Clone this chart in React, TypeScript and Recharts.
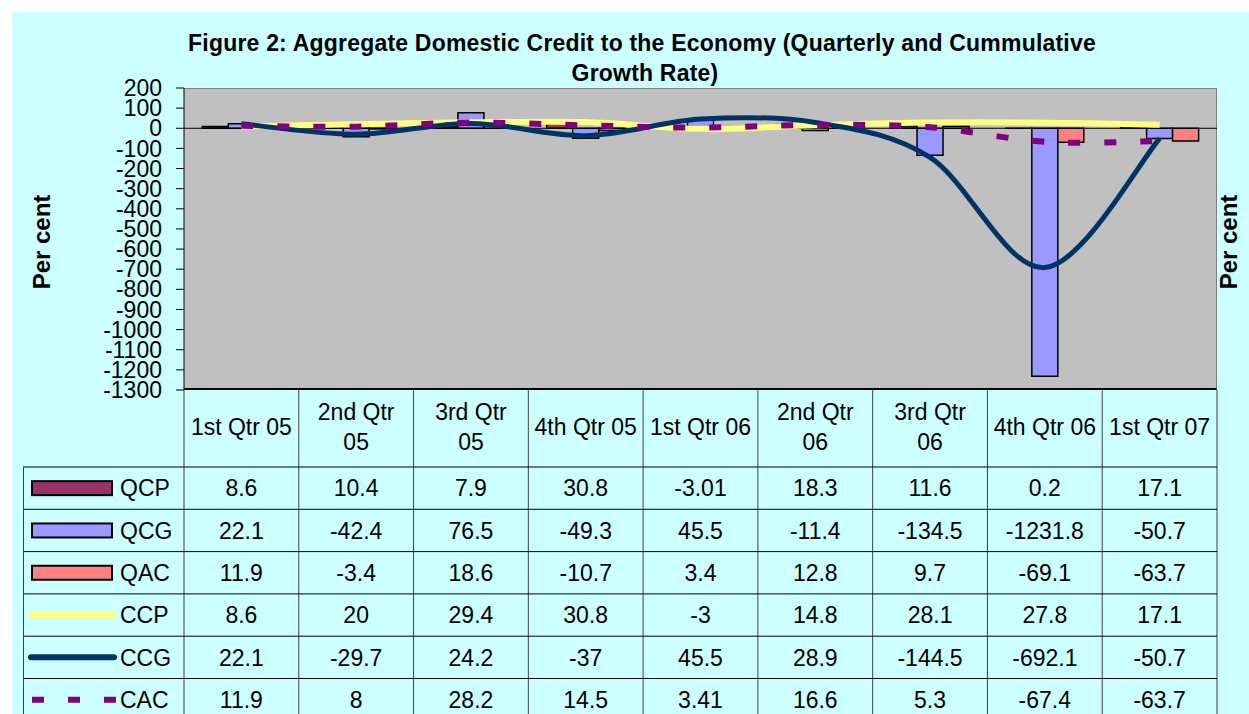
import React from 'react';
import { ComposedChart, Bar, Line, XAxis, YAxis, ReferenceLine } from 'recharts';

// quarters, with the line breaks used in the table header
const headerLines = [
  ['1st Qtr 05'],
  ['2nd Qtr', '05'],
  ['3rd Qtr', '05'],
  ['4th Qtr 05'],
  ['1st Qtr 06'],
  ['2nd Qtr', '06'],
  ['3rd Qtr', '06'],
  ['4th Qtr 06'],
  ['1st Qtr 07'],
];
const categories = headerLines.map((l) => l.join(' '));

const qcp = [8.6, 10.4, 7.9, 30.8, -3.01, 18.3, 11.6, 0.2, 17.1];
const qcg = [22.1, -42.4, 76.5, -49.3, 45.5, -11.4, -134.5, -1231.8, -50.7];
const qac = [11.9, -3.4, 18.6, -10.7, 3.4, 12.8, 9.7, -69.1, -63.7];
const ccp = [8.6, 20, 29.4, 30.8, -3, 14.8, 28.1, 27.8, 17.1];
const ccg = [22.1, -29.7, 24.2, -37, 45.5, 28.9, -144.5, -692.1, -50.7];
const cac = [11.9, 8, 28.2, 14.5, 3.41, 16.6, 5.3, -67.4, -63.7];

const yTicks = [200, 100, 0, -100, -200, -300, -400, -500, -600, -700, -800, -900, -1000, -1100, -1200, -1300];

const data = categories.map((name, i) => ({
  name,
  QCP: qcp[i],
  QCG: qcg[i],
  QAC: qac[i],
  CCP: ccp[i],
  CCG: ccg[i],
  CAC: cac[i],
}));

const C_QCP = '#993366';
const C_QCG = '#9999FF';
const C_QAC = '#FF8080';
const C_CCP = '#FFFF80';
const C_CCG = '#003366';
const C_CAC = '#800080';

const rows = [
  { name: 'QCP', values: qcp, kind: 'bar', color: C_QCP },
  { name: 'QCG', values: qcg, kind: 'bar', color: C_QCG },
  { name: 'QAC', values: qac, kind: 'bar', color: C_QAC },
  { name: 'CCP', values: ccp, kind: 'line', color: C_CCP },
  { name: 'CCG', values: ccg, kind: 'line', color: C_CCG },
  { name: 'CAC', values: cac, kind: 'dash', color: C_CAC },
];

const W = 1249;
const H = 714;
const PLOT_L = 184;
const PLOT_R = 1217;
const PLOT_T = 88;
const PLOT_B = 390;
const Y_AXIS_W = 70;
const BAND = (PLOT_R - PLOT_L) / categories.length;
const ROW_TOP = 467;
const ROW_H = 42.3;
const FONT = 'Arial, "Liberation Sans", sans-serif';

// excel-like smoothed line (catmull-rom through the points)
const excelCurve: any = (ctx: any) => {
  let pts: number[][] = [];
  return {
    areaStart() {},
    areaEnd() {},
    lineStart() {
      pts = [];
    },
    point(x: number, y: number) {
      pts.push([+x, +y]);
    },
    lineEnd() {
      if (!pts.length) return;
      ctx.moveTo(pts[0][0], pts[0][1]);
      for (let i = 0; i < pts.length - 1; i++) {
        const p0 = pts[Math.max(0, i - 1)];
        const p1 = pts[i];
        const p2 = pts[i + 1];
        const p3 = pts[Math.min(pts.length - 1, i + 2)];
        const t = 1 / 6;
        ctx.bezierCurveTo(
          p1[0] + (p2[0] - p0[0]) * t,
          p1[1] + (p2[1] - p0[1]) * t,
          p2[0] - (p3[0] - p1[0]) * t,
          p2[1] - (p3[1] - p1[1]) * t,
          p2[0],
          p2[1]
        );
      }
    },
  };
};

// one column of the data table, drawn under each category
const TableColumn = (props: any) => {
  const { x, payload } = props;
  const i = payload.index;
  const left = x - BAND / 2;
  const lines = headerLines[i];
  return (
    <g>
      <line x1={left} x2={left} y1={PLOT_B} y2={H} stroke="#404040" strokeWidth={1} />
      {i === categories.length - 1 && (
        <line x1={left + BAND} x2={left + BAND} y1={PLOT_B} y2={H} stroke="#404040" strokeWidth={1} />
      )}
      {lines.map((t, k) => (
        <text
          key={k}
          x={x}
          y={427 + (k - (lines.length - 1) / 2) * 30}
          dy="0.36em"
          textAnchor="middle"
          fontSize={23}
          fontFamily={FONT}
          fill="#000"
        >
          {t}
        </text>
      ))}
      {rows.map((r, k) => (
        <text
          key={r.name}
          x={x}
          y={ROW_TOP + ROW_H * (k + 0.5)}
          dy="0.36em"
          textAnchor="middle"
          fontSize={23}
          fontFamily={FONT}
          fill="#000"
        >
          {String(r.values[i])}
        </text>
      ))}
    </g>
  );
};

const LegendKey = ({ r, y }: { r: any; y: number }) => {
  if (r.kind === 'bar') {
    return <rect x={32} y={y - 7} width={80} height={14} fill={r.color} stroke="#000" strokeWidth={2} />;
  }
  if (r.kind === 'line') {
    const isYellow = r.color === C_CCP;
    return (
      <line
        x1={isYellow ? 29 : 31}
        x2={isYellow ? 116 : 114}
        y1={y}
        y2={y}
        stroke={r.color}
        strokeWidth={isYellow ? 7 : 6}
        strokeLinecap={isYellow ? 'butt' : 'round'}
      />
    );
  }
  return <line x1={32} x2={116} y1={y} y2={y} stroke={r.color} strokeWidth={6} strokeDasharray="12 24" />;
};

export default function App() {
  return (
    <div style={{ position: 'absolute', left: 0, top: 0, width: W, height: H, background: '#fff', overflow: 'hidden' }}>
      <div style={{ position: 'absolute', left: 12, top: 12, width: W - 12, height: H - 12, background: '#CCFFFF' }} />
      <div
        style={{
          position: 'absolute',
          left: PLOT_L,
          top: PLOT_T,
          width: PLOT_R - PLOT_L,
          height: PLOT_B - PLOT_T,
          background: '#C0C0C0',
          borderTop: '1px solid #808080',
          borderRight: '1px solid #808080',
          borderBottom: '2px solid #000',
          boxSizing: 'border-box',
        }}
      />
      <div style={{ position: 'absolute', left: 0, top: 0 }}>
        <ComposedChart
          width={W}
          height={H}
          data={data}
          margin={{ top: PLOT_T, right: W - PLOT_R, bottom: 0, left: PLOT_L - Y_AXIS_W }}
          barCategoryGap="16%"
          barGap={0}
        >
          <XAxis
            dataKey="name"
            height={H - PLOT_B}
            interval={0}
            axisLine={false}
            tickLine={false}
            tick={(p: any) => <TableColumn {...p} />}
          />
          <YAxis
            width={Y_AXIS_W}
            domain={[-1300, 200]}
            ticks={yTicks}
            interval={0}
            tickSize={8}
            tickMargin={14}
            axisLine={{ stroke: '#000', strokeWidth: 1 }}
            tickLine={{ stroke: '#000', strokeWidth: 1 }}
            tick={{ fill: '#000', fontSize: 23, fontFamily: FONT }}
          />
          <ReferenceLine y={0} stroke="#000" strokeWidth={1} />
          <Bar dataKey="QCP" fill={C_QCP} stroke="#000" strokeWidth={1.5} isAnimationActive={false} />
          <Bar dataKey="QCG" fill={C_QCG} stroke="#000" strokeWidth={1.5} isAnimationActive={false} />
          <Bar dataKey="QAC" fill={C_QAC} stroke="#000" strokeWidth={1.5} isAnimationActive={false} />
          <Line dataKey="CCP" type={excelCurve} stroke={C_CCP} strokeWidth={6} dot={false} isAnimationActive={false} />
          <Line dataKey="CCG" type={excelCurve} stroke={C_CCG} strokeWidth={5} dot={false} isAnimationActive={false} />
          <Line
            dataKey="CAC"
            type={excelCurve}
            stroke={C_CAC}
            strokeWidth={6}
            strokeDasharray="12 24"
            dot={false}
            isAnimationActive={false}
          />
        </ComposedChart>
      </div>
      <svg width={W} height={H} style={{ position: 'absolute', left: 0, top: 0, pointerEvents: 'none' }}>
        <g fontFamily={FONT} fontWeight="bold" fill="#000" textAnchor="middle">
          <text x={642} y={51} fontSize={23} letterSpacing={0.2}>
            Figure 2: Aggregate Domestic Credit to the Economy (Quarterly and Cummulative
          </text>
          <text x={645} y={81} fontSize={23} letterSpacing={0.2}>
            Growth Rate)
          </text>
          <text transform="translate(50 242) rotate(-90)" fontSize={24}>
            Per cent
          </text>
          <text transform="translate(1237 242) rotate(-90)" fontSize={24}>
            Per cent
          </text>
        </g>
        <line x1={23} x2={PLOT_R} y1={ROW_TOP} y2={ROW_TOP} stroke="#000" strokeWidth={1} />
        <line x1={23.5} x2={23.5} y1={ROW_TOP} y2={H} stroke="#404040" strokeWidth={1} />
        {rows.slice(1).map((r, k) => (
          <line key={r.name} x1={24} x2={PLOT_R} y1={ROW_TOP + ROW_H * (k + 1)} y2={ROW_TOP + ROW_H * (k + 1)} stroke="#000" strokeWidth={1} />
        ))}
        {rows.map((r, k) => {
          const cy = ROW_TOP + ROW_H * (k + 0.5);
          return (
            <g key={r.name}>
              <LegendKey r={r} y={cy} />
              <text x={120} y={cy} dy="0.36em" fontSize={23} fontFamily={FONT} fill="#000">
                {r.name}
              </text>
            </g>
          );
        })}
      </svg>
    </div>
  );
}
